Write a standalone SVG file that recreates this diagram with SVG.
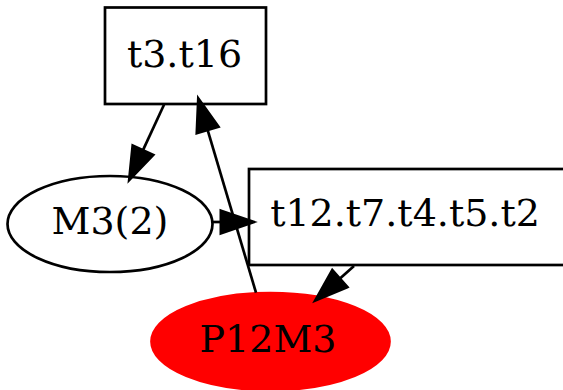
<svg xmlns="http://www.w3.org/2000/svg" width="563" height="390" viewBox="0 0 563 390">
<style>
.box{fill:#fff;stroke:#000;stroke-width:2.7}
.ell{fill:none;stroke:#000;stroke-width:2.7}
.red{fill:#ff0000;stroke:#ff0000;stroke-width:2.7}
.lbl{font-family:"DejaVu Serif","Liberation Serif",serif;font-size:38px;text-anchor:middle;fill:#000}
.edge{fill:none;stroke:#000;stroke-width:2.7;marker-end:url(#ah)}
</style>
<defs>
<marker id="ah" markerUnits="userSpaceOnUse" markerWidth="40" markerHeight="30" refX="0" refY="0" viewBox="-3 -13 36 26" orient="auto" overflow="visible">
<path d="M0,-10 L29,0 L0,10 Z" fill="#000" stroke="#000" stroke-width="2.7"/>
</marker>
</defs>
<rect width="563" height="390" fill="#fff"/>
<g id="t3.t16">
<rect class="box" x="105" y="7.5" width="161" height="96.5"/>
<text class="lbl" x="184.5" y="66.7">t3.t16</text>
</g>
<g id="M3_2">
<ellipse class="ell" cx="110" cy="224" rx="102.5" ry="48"/>
<text class="lbl" x="110" y="234.3">M3(2)</text>
</g>
<g id="t12.t7.t4.t5.t2">
<rect class="box" x="249" y="169" width="317" height="96"/>
<text class="lbl" x="405" y="225.7">t12.t7.t4.t5.t2</text>
</g>
<g id="P12M3">
<ellipse class="red" cx="270.5" cy="341.5" rx="119" ry="48.5"/>
<text class="lbl" x="268" y="351.7">P12M3</text>
</g>
<g id="connectors">
<path class="edge" d="M164,104.7 L142.9,150.4"/>
<path class="edge" d="M212.7,222 L221,222"/>
<path class="edge" d="M256,292.7 L207.6,129.8"/>
<path class="edge" d="M354,266 L339.7,278.7"/>
</g>
</svg>
